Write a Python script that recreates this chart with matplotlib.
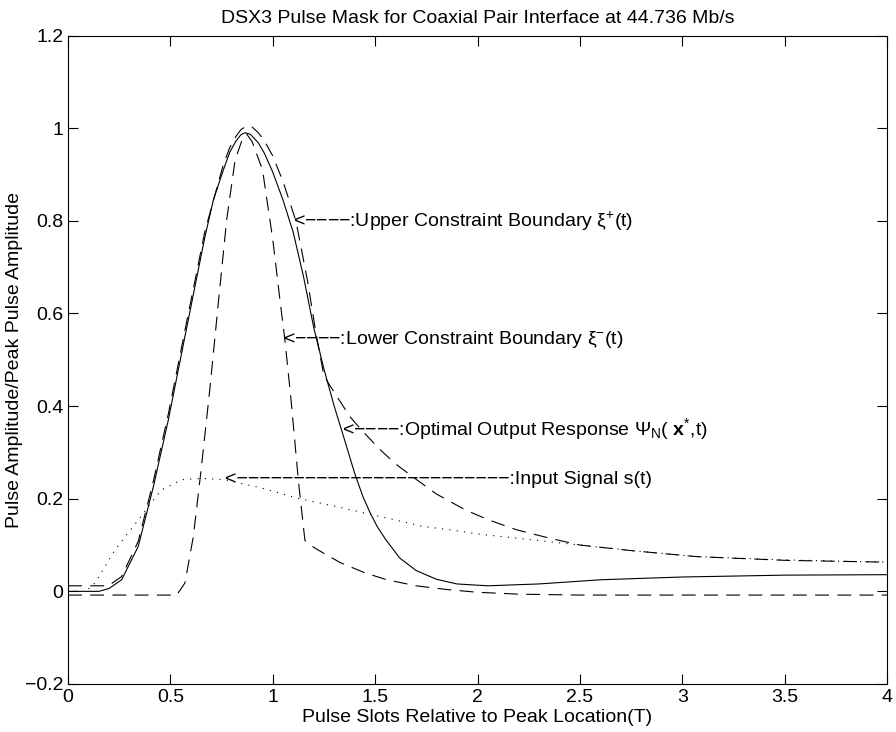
import matplotlib
matplotlib.use("Agg")
import matplotlib.pyplot as plt

plt.rcParams['font.family'] = ['Liberation Sans', 'DejaVu Sans']
plt.rcParams['mathtext.fontset'] = 'custom'
plt.rcParams['mathtext.rm'] = 'Liberation Sans'
plt.rcParams['mathtext.it'] = 'Liberation Sans:italic'
plt.rcParams['mathtext.bf'] = 'Liberation Sans:bold'
plt.rcParams['lines.scale_dashes'] = False

# optimal output response (solid)
t_opt = [0, 0.15, 0.2, 0.262, 0.343, 0.417, 0.49, 0.571, 0.669, 0.71, 0.759, 0.79,
         0.82, 0.845, 0.864, 0.89, 0.93, 0.96, 1.0, 1.05, 1.10, 1.15, 1.2, 1.25,
         1.3, 1.35, 1.40, 1.44, 1.475, 1.51, 1.55, 1.62, 1.7, 1.8, 1.9, 2.05, 2.3,
         2.6, 3.0, 3.5, 4.0]
y_opt = [0, 0, 0.006, 0.025, 0.097, 0.226, 0.37, 0.55, 0.766, 0.845, 0.91, 0.948,
         0.972, 0.986, 0.99, 0.987, 0.968, 0.945, 0.905, 0.845, 0.775, 0.68, 0.57, 0.48,
         0.40, 0.328, 0.255, 0.205, 0.17, 0.14, 0.113, 0.072, 0.045, 0.026, 0.016, 0.012, 0.016,
         0.025, 0.031, 0.035, 0.036]

# upper constraint boundary
t_up = [0, 0.197, 0.262, 0.343, 0.417, 0.49, 0.571, 0.669, 0.759, 0.79, 0.82, 0.845,
        0.873, 0.90, 0.93, 0.96, 1.0, 1.05, 1.113, 1.17, 1.21, 1.25, 1.30, 1.377,
        1.43, 1.524, 1.60, 1.703, 1.80, 1.94, 2.05, 2.19, 2.35, 2.5, 2.75, 3.07,
        3.5, 4.0]
y_up = [0.012, 0.012, 0.032, 0.108, 0.238, 0.383, 0.563, 0.778, 0.922, 0.958, 0.982, 0.997,
        1.005, 1.002, 0.99, 0.972, 0.94, 0.885, 0.80, 0.67, 0.56, 0.465, 0.43, 0.377,
        0.35, 0.306, 0.275, 0.241, 0.21, 0.176, 0.155, 0.133, 0.115, 0.10, 0.088, 0.075,
        0.067, 0.063]

# lower constraint boundary
t_lo = [0, 0.531, 0.571, 0.612, 0.65, 0.694, 0.734, 0.775, 0.816, 0.856, 0.875,
        0.90, 0.95, 1.0, 1.035, 1.06, 1.09, 1.125, 1.157, 1.2, 1.25, 1.33, 1.45,
        1.557, 1.7, 1.85, 2.0, 2.2, 2.5, 4.0]
y_lo = [-0.008, -0.008, 0.018, 0.118, 0.262, 0.442, 0.622, 0.802, 0.931, 0.982, 0.986,
        0.97, 0.91, 0.76, 0.63, 0.54, 0.41, 0.24, 0.11, 0.095, 0.082, 0.062, 0.04,
        0.025, 0.012, 0.004, -0.002, -0.006, -0.008, -0.008]

# input signal s(t)
t_in = [0.1, 0.132, 0.23, 0.343, 0.4, 0.457, 0.555, 0.653, 0.767, 0.946, 1.13,
        1.312, 1.459, 1.6, 1.735, 1.865, 2.0, 2.19, 2.5, 2.8, 3.07, 3.5, 4.0]
y_in = [0.005, 0.018, 0.09, 0.154, 0.188, 0.219, 0.241, 0.244, 0.241, 0.223, 0.2,
        0.183, 0.168, 0.154, 0.14, 0.133, 0.124, 0.115, 0.10, 0.086, 0.075, 0.068, 0.063]

x_ticks = [0, 0.5, 1, 1.5, 2, 2.5, 3, 3.5, 4]
x_ticklabels = ['0', '0.5', '1', '1.5', '2', '2.5', '3', '3.5', '4']
y_ticks = [-0.2, 0, 0.2, 0.4, 0.6, 0.8, 1.0, 1.2]
y_ticklabels = ['\u22120.2', '0', '0.2', '0.4', '0.6', '0.8', '1', '1.2']

fs = 14

fig = plt.figure(figsize=(8.96, 7.32), dpi=100)
ax = fig.add_axes([68 / 896, 1 - 684 / 732, (887 - 68) / 896, (684 - 35.5) / 732])

lw = 0.8
ax.plot(t_opt, y_opt, color='black', lw=lw)
ax.plot(t_up, y_up, color='black', lw=lw, dashes=(10, 6))
ax.plot(t_lo, y_lo, color='black', lw=lw, dashes=(10, 6))
ax.plot(t_in, y_in, color='black', lw=lw, dashes=(0.8, 4.5))

m = '\u2212'
ax.text(1.099, 0.798, '<' + m * 4 + ':Upper Constraint Boundary \u03be$^{+}$(t)', fontsize=fs, va='center')
ax.text(1.052, 0.543, '<' + m * 4 + ':Lower Constraint Boundary \u03be$^{\u2212}$(t)', fontsize=fs, va='center')
ax.text(1.337, 0.35, '<' + m * 4 + ':Optimal Output Response \u03a8$_{\\mathrm{N}}$( $\\mathbf{x}^{*}$,t)', fontsize=fs, va='center')
ax.text(0.767, 0.241, '<' + m * 24 + ':Input Signal s(t)', fontsize=fs, va='center')

ax.set_xlim(0, 4)
ax.set_ylim(-0.2, 1.2)
ax.set_xticks(x_ticks)
ax.set_xticklabels(x_ticklabels, fontsize=fs)
ax.set_yticks(y_ticks)
ax.set_yticklabels(y_ticklabels, fontsize=fs)
ax.tick_params(direction='in', top=True, right=True, length=7, width=0.8)
for s in ax.spines.values():
    s.set_linewidth(0.8)

ax.set_xlabel('Pulse Slots Relative to Peak Location(T)', fontsize=fs, labelpad=2)
ax.set_ylabel('Pulse Amplitude/Peak Pulse Amplitude', fontsize=fs, labelpad=1)
ax.set_title('DSX3 Pulse Mask for Coaxial Pair Interface at 44.736 Mb/s', fontsize=fs, pad=9)

fig.savefig('out.png', dpi=100)
